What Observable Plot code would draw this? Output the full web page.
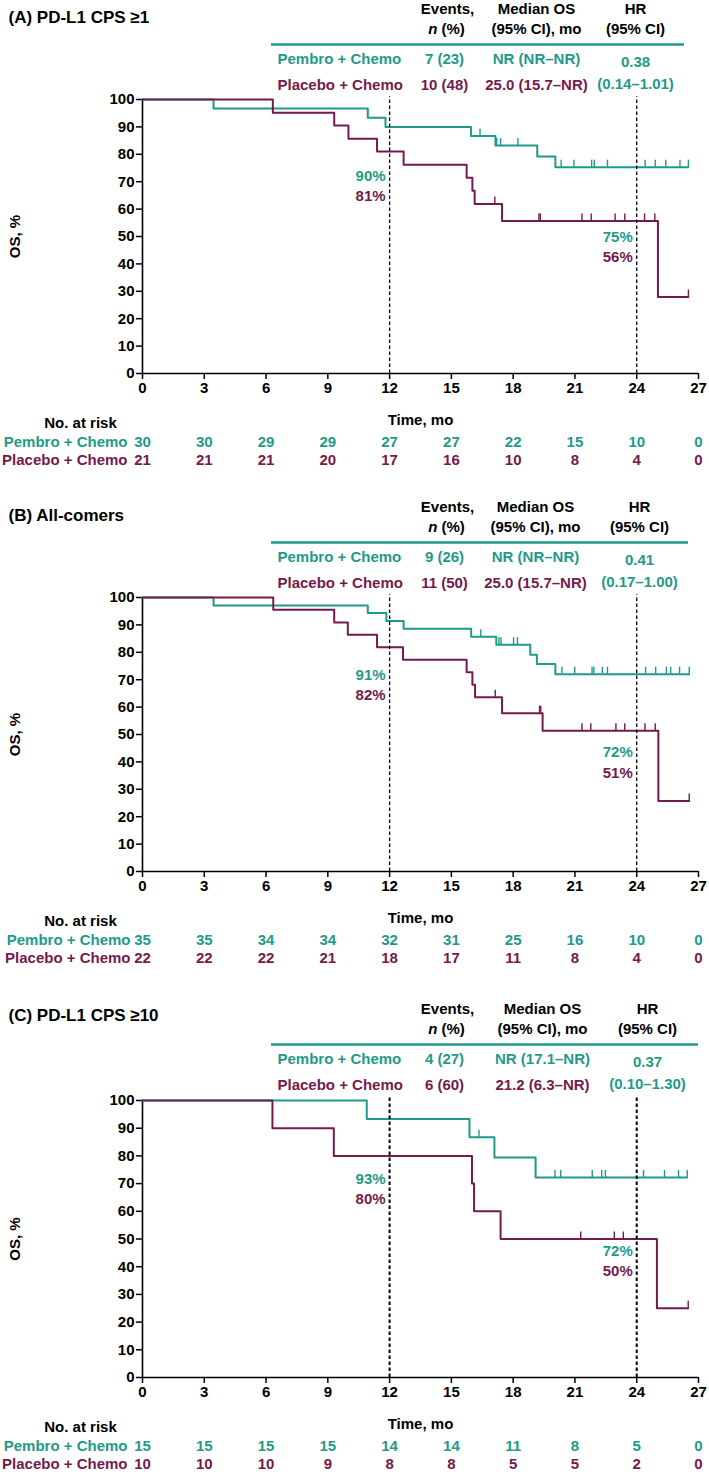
<!DOCTYPE html>
<html><head><meta charset="utf-8">
<script src="https://cdn.jsdelivr.net/npm/d3@7"></script>
<script src="https://cdn.jsdelivr.net/npm/@observablehq/plot@0.6"></script>
<style>
html,body{margin:0;padding:0;background:#fff;}
#root{position:relative;width:709px;height:1477px;overflow:hidden;background:#fff;}
#root > div{position:absolute;left:0;}
</style></head><body><div id="root"></div>
<script>
const TEAL = "#1f9a8a", MAROON = "#741a4e";
const timeTicks = [0, 3, 6, 9, 12, 15, 18, 21, 24, 27];
const survTicks = [0, 10, 20, 30, 40, 50, 60, 70, 80, 90, 100];
const armNames = ["Pembro + Chemo", "Placebo + Chemo"];
const landmarks = [12, 24];

// ---- Panel A: PD-L1 CPS >=1
const aTitle = "(A) PD-L1 CPS ≥1";
const aEvents = ["7 (23)", "10 (48)"];
const aMedian = ["NR (NR–NR)", "25.0 (15.7–NR)"];
const aHR = ["0.38", "(0.14–1.01)"];
const aPembroTime = [0, 3.45, 10.94, 11.8, 15.95, 17.14, 19.17, 20.05, 26.51];
const aPembroSurv = [100, 96.7, 93.3, 90.0, 86.7, 83.2, 79.2, 75.3, 75.3];
const aPembroCens = [16.39, 17.2, 17.39, 18.23, 20.33, 20.95, 21.81, 21.94, 22.58, 24.41, 24.9, 25.41, 26.1, 26.51];
const aPlaceboTime = [0, 6.33, 9.31, 10.0, 11.39, 12.68, 15.74, 16.02, 16.13, 17.46, 25.03, 26.51];
const aPlaceboSurv = [100, 95.2, 90.5, 85.7, 81.0, 76.2, 71.4, 66.7, 61.9, 55.7, 27.9, 27.9];
const aPlaceboCens = [17.11, 19.25, 19.32, 21.34, 21.79, 22.95, 23.42, 24.38, 24.88, 26.51];
const aRiskPembro = [30, 30, 29, 29, 27, 27, 22, 15, 10, 0];
const aRiskPlacebo = [21, 21, 21, 20, 17, 16, 10, 8, 4, 0];
const aPct = [["90%", "81%"], ["75%", "56%"]];

// ---- Panel B: All-comers
const bTitle = "(B) All-comers";
const bEvents = ["9 (26)", "11 (50)"];
const bMedian = ["NR (NR–NR)", "25.0 (15.7–NR)"];
const bHR = ["0.41", "(0.17–1.00)"];
const bPembroTime = [0, 3.45, 10.94, 11.84, 12.68, 15.96, 17.18, 18.83, 19.15, 20.05, 26.55];
const bPembroSurv = [100, 97.1, 94.3, 91.4, 88.6, 85.7, 82.8, 79.1, 75.7, 72.0, 72.0];
const bPembroCens = [16.43, 17.31, 17.41, 18.02, 18.21, 20.37, 20.99, 21.83, 21.92, 22.33, 22.58, 24.43, 24.92, 25.44, 25.65, 26.08, 26.55];
const bPlaceboTime = [0, 6.35, 9.31, 9.97, 11.39, 12.65, 15.74, 16.02, 16.15, 17.46, 19.43, 25.05, 26.55];
const bPlaceboSurv = [100, 95.5, 90.9, 86.4, 81.8, 77.3, 72.7, 68.2, 63.6, 57.8, 51.4, 25.7, 25.7];
const bPlaceboCens = [17.13, 19.28, 19.34, 21.34, 21.77, 22.99, 23.42, 24.4, 24.9, 26.55];
const bRiskPembro = [35, 35, 34, 34, 32, 31, 25, 16, 10, 0];
const bRiskPlacebo = [22, 22, 22, 21, 18, 17, 11, 8, 4, 0];
const bPct = [["91%", "82%"], ["72%", "51%"]];

// ---- Panel C: PD-L1 CPS >=10
const cTitle = "(C) PD-L1 CPS ≥10";
const cEvents = ["4 (27)", "6 (60)"];
const cMedian = ["NR (17.1–NR)", "21.2 (6.3–NR)"];
const cHR = ["0.37", "(0.10–1.30)"];
const cPembroTime = [0, 10.89, 15.88, 17.09, 19.09, 26.45];
const cPembroSurv = [100, 93.3, 86.7, 79.4, 72.2, 72.2];
const cPembroCens = [16.34, 20.03, 20.31, 21.84, 22.3, 22.48, 24.33, 25.35, 26.03, 26.45];
const cPlaceboTime = [0, 6.31, 9.29, 16.0, 16.1, 17.39, 24.98, 26.5];
const cPlaceboSurv = [100, 90, 80, 70, 60, 50, 25, 25];
const cPlaceboCens = [21.28, 22.91, 23.35, 26.5];
const cRiskPembro = [15, 15, 15, 15, 14, 14, 11, 8, 5, 0];
const cRiskPlacebo = [10, 10, 10, 9, 8, 8, 5, 5, 2, 0];
const cPct = [["93%", "80%"], ["72%", "50%"]];

// ---- font selection (condensed bold if installed)
const ctx2d = document.createElement("canvas").getContext("2d");
function hasFont(name) {
  const s = "Pembro + Chemo 0123456789";
  return ["monospace", "serif"].every(fb => {
    ctx2d.font = `bold 20px ${fb}`; const w1 = ctx2d.measureText(s).width;
    ctx2d.font = `bold 20px "${name}", ${fb}`; const w2 = ctx2d.measureText(s).width;
    return Math.abs(w1 - w2) > 0.5;
  });
}
const NARROW = hasFont("Liberation Sans Narrow");
const FAMILY = NARROW ? '"Liberation Sans Narrow", "Liberation Sans", Arial, sans-serif' : '"Liberation Sans", Arial, sans-serif';
const FS = NARROW ? 18 : 15;
const TITLE_FS = NARROW ? 20.5 : 17;
function textW(str, style = "") {
  ctx2d.font = `${style} bold ${FS}px ${FAMILY}`;
  return ctx2d.measureText(str).width;
}

const stepAt = (T, S, t) => { let v = S[0]; for (let i = 0; i < T.length; i++) if (T[i] <= t) v = S[i]; return v; };

function panel(cfg) {
  const ML = 142, MR = 11, W = 709;
  const {top, H, mt, fb, L} = cfg;
  const pxU = (fb - mt) / 100;
  const xPx = px => (px - ML) / (W - MR - ML) * 27;
  const yPx = py => (fb - py) / pxU;
  const font = {fontSize: FS, fontWeight: "bold"};
  const at = (str, px, py, o = {}) => Plot.text([str], {frameAnchor: "top-left", dx: px - ML, dy: py - mt,
    textAnchor: "middle", lineAnchor: "middle", ...font, ...o});
  const curve = (T, S) => T.map((t, i) => ({t, s: S[i]}));
  const cens = (C, T, S) => C.map(t => ({t, s: stepAt(T, S, t)}));
  const riskRow = (vals, dy, fill) => Plot.text(vals.map((n, i) => ({t: timeTicks[i], n})),
    {x: "t", text: d => String(d.n), frameAnchor: "bottom", dy, lineAnchor: "middle", fill, ...font});
  const colors = [TEAL, MAROON];
  const rows = [L.row1, L.row2];
  // "n (%)" centred on the Events column
  const wn = textW("n", "italic"), wsp = textW(" "), wp = textW("(%)");
  const nStart = 446 - (wn + wsp + wp) / 2;
  const marks = [
    // title & header table
    at(cfg.title, 8, L.title, {textAnchor: "start", fontSize: TITLE_FS}),
    at("Events,", 447, L.h1),
    at("n", nStart, L.h2, {textAnchor: "start", fontStyle: "italic"}),
    at("(%)", nStart + wn + wsp, L.h2, {textAnchor: "start"}),
    at("Median OS", L.med, L.h1),
    at("(95% CI), mo", L.med, L.h2),
    at("HR", L.hr, L.h1),
    at("(95% CI)", L.hr, L.h2),
    Plot.ruleY([yPx(L.line)], {x1: xPx(271), x2: xPx(L.lineEnd), stroke: TEAL, strokeWidth: 2.5}),
    ...[0, 1].flatMap(i => [
      at(armNames[i], 277, rows[i], {textAnchor: "start", fill: colors[i]}),
      at(cfg.events[i], 444, rows[i], {fill: colors[i]}),
      at(cfg.median[i], L.med, rows[i], {fill: colors[i]})
    ]),
    at(cfg.hr[0], L.hr, L.hr1, {fill: TEAL}),
    at(cfg.hr[1], L.hr, L.hr2, {fill: TEAL}),
    // axes
    Plot.ruleY([0], {stroke: "black", strokeWidth: 1.6}),
    Plot.ruleX([0], {stroke: "black", strokeWidth: 1.6}),
    Plot.axisX(timeTicks, {tickSize: 6, tickPadding: 3, strokeWidth: 1.5, label: null, ...font}),
    Plot.axisY(survTicks, {tickSize: 6, tickPadding: 2, strokeWidth: 1.5, label: null, ...font}),
    Plot.text(["OS, %"], {frameAnchor: "left", dx: 15 - ML, rotate: -90, textAnchor: "middle", lineAnchor: "middle", ...font}),
    Plot.text(["Time, mo"], {frameAnchor: "bottom", dy: 47, lineAnchor: "middle", ...font}),
    // curves
    Plot.line(curve(cfg.pT, cfg.pS), {x: "t", y: "s", curve: "step-after", stroke: TEAL, strokeWidth: 2}),
    Plot.line(curve(cfg.qT, cfg.qS), {x: "t", y: "s", curve: "step-after", stroke: MAROON, strokeWidth: 2}),
    Plot.ruleX(cens(cfg.pC, cfg.pT, cfg.pS), {x: "t", y1: "s", y2: d => d.s + 7 / pxU, stroke: TEAL, strokeWidth: 1.4}),
    Plot.ruleX(cens(cfg.qC, cfg.qT, cfg.qS), {x: "t", y1: "s", y2: d => d.s + 7 / pxU, stroke: MAROON, strokeWidth: 1.4}),
    Plot.ruleX(landmarks, {y1: 0, y2: 101, stroke: "black", strokeWidth: L.dashW, strokeDasharray: "3.5,2.5"}),
    // landmark annotations
    ...[0, 1].flatMap(j => [0, 1].map(i =>
      Plot.text([cfg.pct[j][i]], {x: landmarks[j], y: L.ann[j][i], dx: -4, textAnchor: "end", lineAnchor: "middle", fill: colors[i], ...font}))),
    // number at risk
    Plot.text(["No. at risk"], {frameAnchor: "bottom-left", dx: 80 - ML, dy: 50, textAnchor: "middle", lineAnchor: "middle", ...font}),
    Plot.text([armNames[0]], {frameAnchor: "bottom-left", dx: L.armEnd - ML, dy: 69, textAnchor: "end", lineAnchor: "middle", fill: TEAL, ...font}),
    Plot.text([armNames[1]], {frameAnchor: "bottom-left", dx: L.armEnd - ML, dy: 87, textAnchor: "end", lineAnchor: "middle", fill: MAROON, ...font}),
    riskRow(cfg.riskP, 69, TEAL),
    riskRow(cfg.riskQ, 87, MAROON)
  ];
  const svg = Plot.plot({
    width: W, height: H, marginLeft: ML, marginRight: MR, marginTop: mt, marginBottom: H - fb,
    x: {domain: [0, 27]}, y: {domain: [0, 100]},
    style: {fontFamily: FAMILY, fontSize: FS + "px", fontWeight: "bold", color: "#000", background: "transparent", overflow: "visible"},
    marks
  });
  const wrap = document.createElement("div");
  wrap.style.top = top + "px";
  wrap.appendChild(svg);
  document.getElementById("root").appendChild(wrap);
}

const baseL = {title: 17, h1: 9, h2: 29, line: 44, row1: 59, row2: 85, hr1: 62, hr2: 84, armEnd: 127, dashW: 1.3};

panel({top: 0, H: 498, mt: 99, fb: 373, title: aTitle, events: aEvents, median: aMedian, hr: aHR,
  pT: aPembroTime, pS: aPembroSurv, pC: aPembroCens, qT: aPlaceboTime, qS: aPlaceboSurv, qC: aPlaceboCens,
  riskP: aRiskPembro, riskQ: aRiskPlacebo, pct: aPct,
  L: {...baseL, med: 536, hr: 635, lineEnd: 684, ann: [[72, 64.7], [49.9, 42.6]]}});
panel({top: 498, H: 500, mt: 99, fb: 373, title: bTitle, events: bEvents, median: bMedian, hr: bHR,
  pT: bPembroTime, pS: bPembroSurv, pC: bPembroCens, qT: bPlaceboTime, qS: bPlaceboSurv, qC: bPlaceboCens,
  riskP: bRiskPembro, riskQ: bRiskPlacebo, pct: bPct,
  L: {...baseL, med: 535, hr: 639, lineEnd: 688, armEnd: 130, ann: [[71.6, 64.4], [43.4, 35.9]]}});
panel({top: 1000, H: 477, mt: 100, fb: 377, title: cTitle, events: cEvents, median: cMedian, hr: cHR,
  pT: cPembroTime, pS: cPembroSurv, pC: cPembroCens, qT: cPlaceboTime, qS: cPlaceboSurv, qC: cPlaceboCens,
  riskP: cRiskPembro, riskQ: cRiskPlacebo, pct: cPct,
  L: {...baseL, title: 15, med: 542, hr: 647, lineEnd: 698, dashW: 2, ann: [[71.5, 64.3], [45.5, 38.2]]}});
</script></body></html>
